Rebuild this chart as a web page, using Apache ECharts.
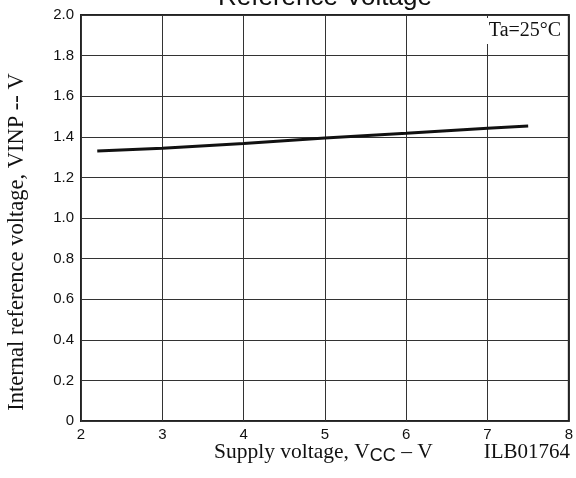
<!DOCTYPE html>
<html>
<head>
<meta charset="utf-8">
<script src="https://cdn.jsdelivr.net/npm/echarts@6/dist/echarts.min.js"></script>
<style>html,body{margin:0;padding:0;background:#fff}#c{width:576px;height:478px}</style>
</head>
<body>
<div id="c"></div>
<script>
var supplyVoltage = [2.2, 3, 4, 5, 6, 7, 7.5];
var refVoltage = [1.330, 1.343, 1.367, 1.394, 1.417, 1.442, 1.453];
var xTicks = [2, 3, 4, 5, 6, 7, 8];
var yTicks = [0, 0.2, 0.4, 0.6, 0.8, 1.0, 1.2, 1.4, 1.6, 1.8, 2.0];

var chart = echarts.init(document.getElementById('c'), null, {renderer: 'canvas'});
var pts = supplyVoltage.map(function (v, i) { return [v, refVoltage[i]]; });
var serif = 'Liberation Serif';
var sans = 'Liberation Sans';
chart.setOption({
  animation: false,
  backgroundColor: '#fff',
  grid: {left: 81, right: 6, top: 15, bottom: 57, show: true, borderColor: '#222', borderWidth: 2},
  xAxis: {
    type: 'value', min: xTicks[0], max: xTicks[xTicks.length - 1], interval: 1,
    axisLine: {show: false}, axisTick: {show: false},
    splitLine: {show: true, lineStyle: {color: '#333', width: 1}},
    axisLabel: {fontFamily: sans, fontSize: 15, color: '#111', margin: 6}
  },
  yAxis: {
    type: 'value', min: yTicks[0], max: yTicks[yTicks.length - 1], interval: 0.2,
    axisLine: {show: false}, axisTick: {show: false},
    splitLine: {show: true, lineStyle: {color: '#333', width: 1}},
    axisLabel: {fontFamily: sans, fontSize: 15, color: '#111', margin: 7,
      formatter: function (v) { return v === 0 ? '0' : v.toFixed(1); }}
  },
  series: [{
    type: 'line', data: pts, showSymbol: false, smooth: false,
    lineStyle: {color: '#111', width: 3}
  }],
  graphic: [
    {type: 'text', x: 325, y: -15, z: 10,
      style: {text: 'Reference Voltage', font: '26px ' + sans, fill: '#111', textAlign: 'center'}},
    {type: 'text', x: 525, y: 31, z: 10,
      style: {text: 'Ta=25°C', font: '20px ' + serif, fill: '#111', textAlign: 'center', textVerticalAlign: 'middle',
        backgroundColor: '#fff', padding: [3, 3]}},
    {type: 'text', x: 214, y: 452, z: 10,
      style: {text: '{a|Supply voltage, V}{b|CC}{a| – V}', textAlign: 'left', textVerticalAlign: 'middle',
        rich: {a: {font: '21.5px ' + serif, fill: '#111'}, b: {font: '18px ' + sans, fill: '#111', padding: [8, 0, 0, 0]}}}},
    {type: 'text', x: 570, y: 452, z: 10,
      style: {text: 'ILB01764', font: '21px ' + serif, fill: '#111', textAlign: 'right', textVerticalAlign: 'middle'}},
    {type: 'text', x: 17, y: 242, rotation: Math.PI / 2, z: 10,
      style: {text: 'Internal reference voltage, VINP -- V', font: '22.5px ' + serif, fill: '#111', textAlign: 'center', textVerticalAlign: 'middle'}}
  ]
});
</script>
</body>
</html>
